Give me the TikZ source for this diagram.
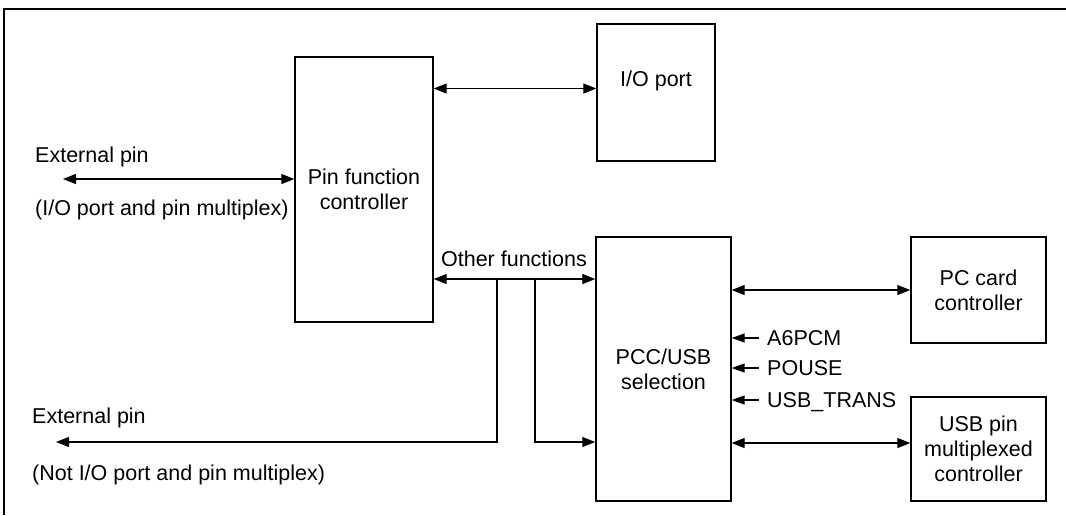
\documentclass[tikz,border=0pt]{standalone}
\usepackage{fontspec}
\setmainfont{Liberation Sans}
\usetikzlibrary{arrows.meta, calc}

\begin{document}
\begin{tikzpicture}[
    x=1pt, y=-1pt,
    block/.style={draw, line width=1.4pt, inner sep=0pt, align=center, font=\fontsize{21.5}{25}\selectfont},
    lbl/.style={inner sep=0pt, text height=15pt, text depth=0pt, font=\fontsize{21.5}{25}\selectfont},
    biarr/.style={{Triangle[length=13pt,width=10pt]}-{Triangle[length=13pt,width=10pt]}, line width=1.3pt},
    arr/.style={-{Triangle[length=13pt,width=10pt]}, line width=1.3pt},
    sig/.style={-{Triangle[length=13pt,width=9pt]}, line width=1.3pt}
]
    \useasboundingbox (0,0) rectangle (1066,515);
    \draw[line width=2.8pt] (4,515) -- (4,9) -- (1066,9);

    \node[block, minimum width=138pt, minimum height=265pt] (pfc) at (364,189.5) {Pin function\\controller};
    \node[block, minimum width=118pt, minimum height=137pt] (io) at (656,92.5) {};
    \node[lbl] (iotxt) at ([yshift=14pt]io.center) {I/O port};
    \node[block, minimum width=135pt, minimum height=264pt] (pcc) at (663.5,369) {PCC/USB\\selection};
    \node[block, minimum width=135pt, minimum height=106pt] (pcard) at (978.5,290) {PC card\\controller};
    \node[block, minimum width=135pt, minimum height=104pt] (usb) at (978.5,449) {USB pin\\multiplexed\\controller};

    \draw[biarr] ([yshift=4pt]pfc.east |- io.west) -- ([yshift=4pt]io.west);

    \coordinate (ext1) at (63,179);
    \node[lbl, anchor=west] (ext1a) at (35,155) {External pin};
    \node[lbl, anchor=west] (ext1b) at (35,208) {(I/O port and pin multiplex)};
    \draw[biarr] (ext1) -- (ext1 -| pfc.west);

    \coordinate (bus) at (pfc.east |- 0,279);
    \coordinate (tapa) at (497,279);
    \coordinate (tapb) at (535,279);
    \coordinate (ext2) at (56,442);
    \node[lbl] (oth) at (514,259) {Other functions};
    \draw[biarr] (bus) -- (bus -| pcc.west);
    \draw[arr] (tapa) |- (ext2);
    \draw[arr] (tapb) |- (ext2 -| pcc.west);
    \node[lbl, anchor=west] (ext2a) at (32,416) {External pin};
    \node[lbl, anchor=west] (ext2b) at (32,473) {(Not I/O port and pin multiplex)};

    \draw[biarr] (pcc.east |- pcard.west) -- (pcard.west);
    \draw[biarr] ([yshift=6pt]usb.west -| pcc.east) -- ([yshift=6pt]usb.west);

    \foreach \y/\txt/\nm in {338/A6PCM/sa, 368/POUSE/sb, 400/USB\_TRANS/sc} {
        \node[lbl, anchor=west] (\nm) at (767,\y) {\txt};
        \draw[sig] ([xshift=-8pt]\nm.west) -- (\nm.west -| pcc.east);
    }
\end{tikzpicture}
\end{document}
